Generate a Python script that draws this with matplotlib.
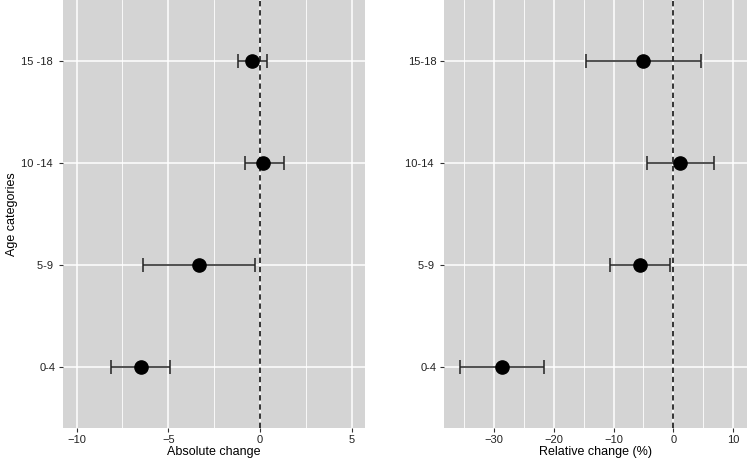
import matplotlib.pyplot as plt
import numpy as np

plt.rcParams['font.family'] = ['Liberation Sans', 'DejaVu Sans']

# age groups, bottom to top
left_labels = ["0-4", "5-9 ", "10 -14 ", "15 -18 "]
right_labels = ["0-4", "5-9 ", "10-14 ", "15-18"]

abs_est = [-6.49, -3.31, 0.18, -0.42]
abs_low = [-8.12, -6.39, -0.80, -1.22]
abs_high = [-4.89, -0.29, 1.33, 0.40]

rel_est = [-28.7, -5.6, 1.2, -5.0]
rel_low = [-35.7, -10.55, -4.4, -14.6]
rel_high = [-21.6, -0.5, 6.8, 4.6]

bg = "#d4d4d4"
fig = plt.figure(figsize=(7.48, 4.58), dpi=100)
ax1 = fig.add_axes([0.0842, 0.0655, 0.4037, 0.9345])
ax2 = fig.add_axes([0.5936, 0.0655, 0.4047, 0.9345])


def panel(ax, est, low, high, labels, xlim, major, minor, xlabel):
    y = np.arange(1, len(est) + 1)
    est = np.array(est)
    err = [est - np.array(low), np.array(high) - est]
    ax.set_facecolor(bg)
    for s in ax.spines.values():
        s.set_visible(False)
    ax.set_xticks(major)
    ax.set_xticks(minor, minor=True)
    ax.set_yticks(y)
    ax.set_yticklabels(labels)
    ax.set_xticklabels(["\u2212" + str(abs(v)) if v < 0 else str(v) for v in major])
    ax.grid(which="major", color="white", linewidth=1.1)
    ax.grid(which="minor", axis="x", color="white", linewidth=0.6)
    ax.set_axisbelow(True)
    ax.tick_params(which="major", length=3, color="#333333", width=0.8,
                   labelsize=8, labelcolor="#222222", pad=2)
    ax.tick_params(which="minor", length=0)
    ax.axvline(0, color="black", linestyle=(0, (3.5, 2.5)), linewidth=1.1, zorder=2)
    ax.errorbar(est, y, xerr=err, fmt="none", ecolor="#222222", elinewidth=1.1,
                capsize=5, capthick=1.1, zorder=3)
    ax.plot(est, y, "o", color="black", markersize=9.5, zorder=4)
    ax.set_xlim(*xlim)
    ax.set_ylim(0.4, 4.6)
    ax.set_xlabel(xlabel, fontsize=9, labelpad=0.5)


panel(ax1, abs_est, abs_low, abs_high, left_labels, (-10.74, 5.72),
      [-10, -5, 0, 5], [-7.5, -2.5, 2.5], "Absolute change")
panel(ax2, rel_est, rel_low, rel_high, right_labels, (-38.4, 12.3),
      [-30, -20, -10, 0, 10], [-35, -25, -15, -5, 5], "Relative change (%)")
ax1.set_ylabel("Age categories", fontsize=9, labelpad=2)

fig.savefig("out.png", dpi=100)
